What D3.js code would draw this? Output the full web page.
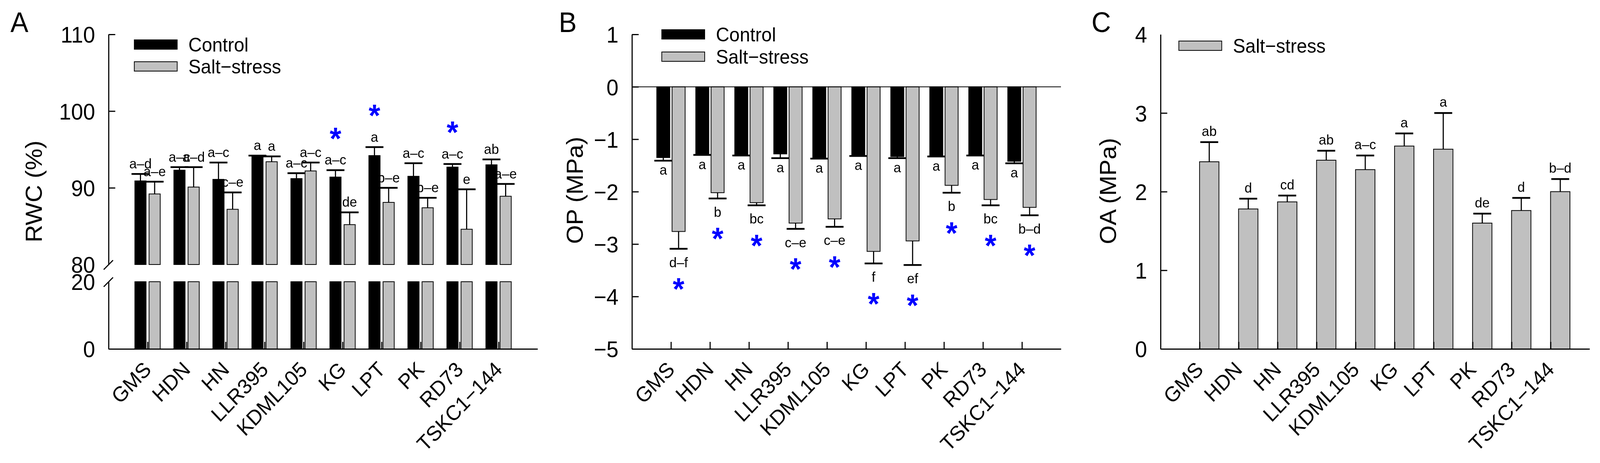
<!DOCTYPE html>
<html>
<head>
<meta charset="utf-8">
<script src="https://cdn.jsdelivr.net/npm/d3@7"></script>
<style>
  html, body { margin: 0; padding: 0; background: #fff; overflow: hidden; }
  #chart { position: fixed; left: 0; top: 0; width: 100vw; height: 100vh; display: block; }
  text { font-family: "Liberation Sans", Arial, Helvetica, sans-serif; fill: #000; }
</style>
</head>
<body>
<svg id="chart" viewBox="0 0 4289 1185" preserveAspectRatio="none"></svg>
<script>
// Cultivars (x categories, same for all three panels)
const cultivars = ['GMS', 'HDN', 'HN', 'LLR395', 'KDML105', 'KG', 'LPT', 'PK', 'RD73', 'TSKC1\u2212144'];

// A - relative water content (%)
const rwcControl = [90.9, 92.3, 91.1, 94.1, 91.2, 91.4, 94.2, 91.5, 92.7, 93.0];
const rwcControlErr = [0.9, 0.4, 2.2, 0.1, 0.7, 0.9, 1.1, 1.7, 0.4, 0.7];
const rwcSalt = [89.2, 90.1, 87.2, 93.4, 92.2, 85.2, 88.1, 87.4, 84.6, 88.9];
const rwcSaltErr = [1.6, 2.6, 2.2, 0.7, 1.1, 1.6, 1.9, 1.3, 5.2, 1.6];
const rwcControlLetters = ['a–d', 'a–c', 'a–c', 'a', 'a–c', 'a–c', 'a', 'a–c', 'a–c', 'ab'];
const rwcSaltLetters = ['a–e', 'a–d', 'c–e', 'a', 'a–c', 'de', 'b–e', 'b–e', 'e', 'a–e'];
const rwcStars = [false, false, false, false, false, true, true, false, true, false];
const rwcUpperTicks = [80, 90, 100, 110];
const rwcLowerTicks = [0, 20];

// B - osmotic potential (MPa)
const opControl = [-1.35, -1.29, -1.30, -1.28, -1.36, -1.31, -1.33, -1.32, -1.30, -1.42];
const opControlErr = [0.06, 0.01, 0.01, 0.08, 0.01, 0.01, 0.03, 0.01, 0.01, 0.04];
const opSalt = [-2.76, -2.02, -2.21, -2.60, -2.52, -3.14, -2.94, -1.88, -2.15, -2.30];
const opSaltErr = [0.33, 0.11, 0.05, 0.11, 0.15, 0.23, 0.46, 0.14, 0.11, 0.15];
const opControlLetters = ['a', 'a', 'a', 'a', 'a', 'a', 'a', 'a', 'a', 'a'];
const opSaltLetters = ['d–f', 'b', 'bc', 'c–e', 'c–e', 'f', 'ef', 'b', 'bc', 'b–d'];
const opStars = [true, true, true, true, true, true, true, true, true, true];
const opTicks = [-5, -4, -3, -2, -1, 0, 1];

// C - osmotic adjustment (MPa)
const oaSalt = [2.38, 1.78, 1.87, 2.40, 2.28, 2.58, 2.54, 1.60, 1.76, 2.00];
const oaSaltErr = [0.25, 0.13, 0.08, 0.12, 0.18, 0.16, 0.46, 0.12, 0.16, 0.16];
const oaSaltLetters = ['ab', 'd', 'cd', 'ab', 'a–c', 'a', 'a', 'de', 'd', 'b–d'];
const oaTicks = [0, 1, 2, 3, 4];

const svg = d3.select('#chart');
const plotTop = 88, plotBottom = 893, plotW = 1150;
const GREY = '#c0c0c0', BLUE = '#0000ff';
const tickFont = 58, catFont = 54, letterFont = 36, legendFont = 50, starFont = 80;

function xScale(x0) {
  return d3.scalePoint().domain(cultivars).range([x0, x0 + plotW]).padding(1);
}

function styleAxis(g) {
  g.attr('font-family', null).attr('font-size', tickFont);
  g.select('.domain').attr('stroke-width', 3);
  g.selectAll('.tick line').attr('stroke-width', 3);
  g.selectAll('.tick text').attr('dy', '0.36em');
}

function leftAxis(scale, ticks, x0, hide) {
  var g = svg.append('g')
      .attr('transform', 'translate(' + x0 + ',0)')
      .call(d3.axisLeft(scale).tickValues(ticks).tickFormat(d3.format('d'))
        .tickSizeInner(-18).tickSizeOuter(0).tickPadding(36));
  styleAxis(g);
  g.selectAll('.tick').filter(function (d) { return hide.indexOf(d) >= 0; }).select('line').remove();
  return g;
}

function bottomAxis(x) {
  var g = svg.append('g')
      .attr('transform', 'translate(0,' + plotBottom + ')')
      .call(d3.axisBottom(x).tickSizeInner(-18).tickSizeOuter(0).tickFormat(''));
  styleAxis(g);
  // rotated cultivar names
  svg.append('g').selectAll('text')
    .data(cultivars)
    .enter().append('text')
      .attr('text-anchor', 'end')
      .attr('font-size', catFont)
      .attr('transform', function (d) { return 'translate(' + (x(d) + 13) + ',' + (plotBottom + 56) + ') rotate(-45)'; })
      .text(function (d) { return d; });
}

function yTitle(txt, cx, cy) {
  svg.append('text')
      .attr('transform', 'translate(' + cx + ',' + cy + ') rotate(-90)')
      .attr('text-anchor', 'middle')
      .attr('dy', '0.36em')
      .attr('font-size', 62)
      .text(txt);
}

function panelLetter(txt, x) {
  svg.append('text').attr('x', x).attr('y', 82).attr('font-size', 72).text(txt);
}

function legend(items, x, y0, step) {
  items.forEach(function (it, i) {
    var y = y0 + i * step;
    svg.append('rect')
        .attr('x', x).attr('y', y).attr('width', 115).attr('height', 24)
        .attr('fill', it.fill).attr('stroke', '#000').attr('stroke-width', 2);
    svg.append('text')
        .attr('x', x + 145).attr('y', y + 30)
        .attr('font-size', legendFont)
        .text(it.label);
  });
}

function errorBar(g, cx, y1, y2) {
  g.append('line').attr('x1', cx).attr('x2', cx).attr('y1', y1).attr('y2', y2)
      .attr('stroke', '#000').attr('stroke-width', 3);
  g.append('line').attr('x1', cx - 24).attr('x2', cx + 24).attr('y1', y2).attr('y2', y2)
      .attr('stroke', '#000').attr('stroke-width', 4.5);
}

function star(g, cx, cy) {
  g.append('text')
      .attr('x', cx).attr('y', cy + 0.58 * starFont)
      .attr('text-anchor', 'middle')
      .attr('font-size', starFont)
      .attr('font-weight', 'bold')
      .style('fill', BLUE)
      .text('*');
}

function letter(g, cx, y, txt) {
  g.append('text')
      .attr('x', cx).attr('y', y)
      .attr('text-anchor', 'middle')
      .attr('font-size', letterFont)
      .text(txt);
}

// ---------------- Panel A : RWC with broken axis ----------------
(function () {
  var ax = 291;
  var x = xScale(ax);
  var yUp = d3.scaleLinear().domain([80, 110]).range([677, plotTop]);
  var yLow = d3.scaleLinear().domain([0, 20]).range([plotBottom, 721]);
  var sub = d3.scaleBand().domain(['control', 'salt']).range([-34, 34]).paddingInner(0.21);

  var series = [
    { key: 'control', vals: rwcControl, err: rwcControlErr, lab: rwcControlLetters, fill: '#000' },
    { key: 'salt', vals: rwcSalt, err: rwcSaltErr, lab: rwcSaltLetters, fill: GREY }
  ];

  var g = svg.append('g');
  series.forEach(function (s) {
    cultivars.forEach(function (c, i) {
      var bx = x(c) + sub(s.key), bw = sub.bandwidth(), cx = bx + bw / 2;
      // lower segment 0-20
      g.append('rect').attr('x', bx).attr('width', bw)
          .attr('y', yLow(20)).attr('height', yLow(0) - yLow(20))
          .attr('fill', s.fill).attr('stroke', '#000').attr('stroke-width', 2);
      // upper segment 80-value
      g.append('rect').attr('x', bx).attr('width', bw)
          .attr('y', yUp(s.vals[i])).attr('height', yUp(80) - yUp(s.vals[i]))
          .attr('fill', s.fill).attr('stroke', '#000').attr('stroke-width', 2);
      var capY = yUp(s.vals[i] + s.err[i]);
      errorBar(g, cx, yUp(s.vals[i]), capY);
      letter(g, cx, capY - 14, s.lab[i]);
      if (s.key === 'control' && rwcStars[i]) star(g, cx, capY - 100);
    });
  });

  leftAxis(yUp, rwcUpperTicks, ax, [80]);
  leftAxis(yLow, rwcLowerTicks, ax, [20]);
  // axis break marks
  [yUp(80), yLow(20)].forEach(function (y) {
    svg.append('line').attr('x1', ax - 13).attr('y1', y + 13).attr('x2', ax + 12).attr('y2', y - 11)
        .attr('stroke', '#000').attr('stroke-width', 3);
  });
  bottomAxis(x);
  yTitle('RWC (%)', 90, 490);
  panelLetter('A', 28);
  legend([{ label: 'Control', fill: '#000' }, { label: 'Salt\u2212stress', fill: GREY }], 360, 102, 56);
})();

// ---------------- Panel B : OP ----------------
(function () {
  var ax = 1694;
  var x = xScale(ax);
  var y = d3.scaleLinear().domain([-5, 1]).range([plotBottom, plotTop]);
  var sub = d3.scaleBand().domain(['control', 'salt']).range([-38, 38]).paddingInner(0.146);

  var series = [
    { key: 'control', vals: opControl, err: opControlErr, lab: opControlLetters, fill: '#000', off: 36 },
    { key: 'salt', vals: opSalt, err: opSaltErr, lab: opSaltLetters, fill: GREY, off: 47 }
  ];

  var g = svg.append('g');
  series.forEach(function (s) {
    cultivars.forEach(function (c, i) {
      var bx = x(c) + sub(s.key), bw = sub.bandwidth(), cx = bx + bw / 2;
      g.append('rect').attr('x', bx).attr('width', bw)
          .attr('y', y(0)).attr('height', y(s.vals[i]) - y(0))
          .attr('fill', s.fill).attr('stroke', '#000').attr('stroke-width', 2);
      var capY = y(s.vals[i] - s.err[i]);
      errorBar(g, cx, y(s.vals[i]), capY);
      letter(g, cx, capY + s.off, s.lab[i]);
      if (s.key === 'salt' && opStars[i]) star(g, cx, capY + 84);
    });
  });

  // zero line
  svg.append('line').attr('x1', ax).attr('x2', ax + plotW).attr('y1', y(0)).attr('y2', y(0))
      .attr('stroke', '#000').attr('stroke-width', 2);
  leftAxis(y, opTicks, ax, []);
  bottomAxis(x);
  yTitle('OP (MPa)', 1540, 487);
  panelLetter('B', 1498);
  legend([{ label: 'Control', fill: '#000' }, { label: 'Salt\u2212stress', fill: GREY }], 1774, 76, 57);
})();

// ---------------- Panel C : OA ----------------
(function () {
  var ax = 3111;
  var x = xScale(ax);
  var y = d3.scaleLinear().domain([0, 4]).range([plotBottom, plotTop]);
  var sub = d3.scaleBand().domain(['salt']).range([0, 52]);

  var g = svg.append('g');
  cultivars.forEach(function (c, i) {
    var bx = x(c) + sub('salt'), bw = sub.bandwidth(), cx = bx + bw / 2;
    g.append('rect').attr('x', bx).attr('width', bw)
        .attr('y', y(oaSalt[i])).attr('height', y(0) - y(oaSalt[i]))
        .attr('fill', GREY).attr('stroke', '#000').attr('stroke-width', 2);
    var capY = y(oaSalt[i] + oaSaltErr[i]);
    errorBar(g, cx, y(oaSalt[i]), capY);
    letter(g, cx, capY - 16, oaSaltLetters[i]);
  });

  leftAxis(y, oaTicks, ax, [4]);
  bottomAxis(x);
  yTitle('OA (MPa)', 2969, 489);
  panelLetter('C', 2926);
  legend([{ label: 'Salt\u2212stress', fill: GREY }], 3160, 105, 57);
})();
</script>
</body>
</html>
